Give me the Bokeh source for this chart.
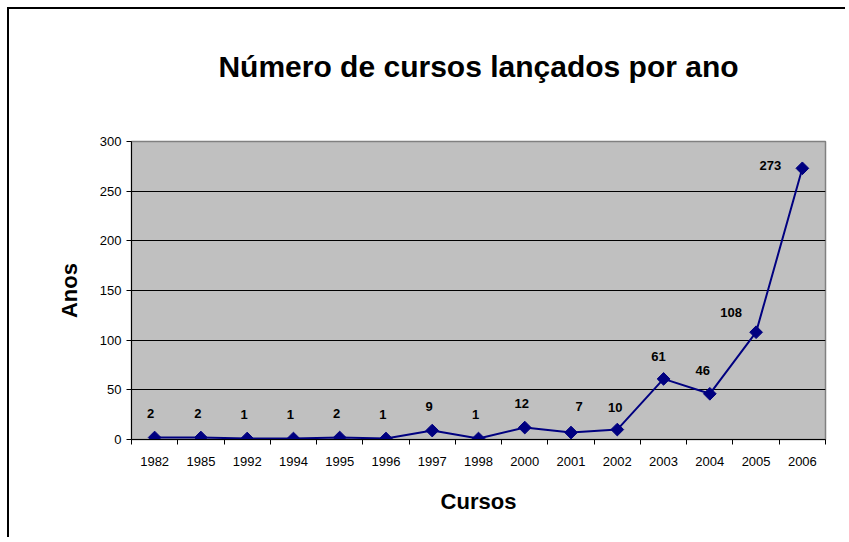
from bokeh.plotting import figure
from bokeh.models import FixedTicker, ColumnDataSource, LabelSet
from bokeh.embed import file_html
from bokeh.resources import INLINE
from bokeh.core.properties import value

# ---- data ----
years = ["1982", "1985", "1992", "1994", "1995", "1996", "1997", "1998",
         "2000", "2001", "2002", "2003", "2004", "2005", "2006"]
cursos = [2, 2, 1, 1, 2, 1, 9, 1, 12, 7, 10, 61, 46, 108, 273]
y_ticks = [0, 50, 100, 150, 200, 250, 300]
title_text = "Número de cursos lançados por ano"

# label placement (screen px), style only
lbl_dx = [-4, -3, -3, -3, -3, -3, -3, -3, -3, 8, -2, -5, -7, -25, -32]
lbl_dy = [24, 24, 24, 24, 24, 24, 24, 24, 24, 26, 22, 22, 23, 20, 3]

FONT = "Liberation Sans"
xs = [i + 0.5 for i in range(len(years))]

src = ColumnDataSource(dict(x=xs, y=cursos, lbl=[str(v) for v in cursos],
                            dx=lbl_dx, dy=lbl_dy))

p = figure(width=838, height=530, output_backend="svg", toolbar_location=None,
           x_range=(0, len(years)), y_range=(0, 300),
           min_border_left=122, min_border_right=22,
           min_border_top=132, min_border_bottom=100,
           background_fill_color="#C0C0C0", border_fill_color="white")
p.styles = {"border-left": "2px solid black", "border-top": "2px solid black",
            "margin-left": "7px", "margin-top": "7px"}

# a trailing empty line lifts the title higher above the plot area
p.title.text = title_text + "\n "
p.title.align = "center"
p.title.text_font = FONT
p.title.text_font_size = "30px"
p.title.text_font_style = "bold"
p.title.text_color = "black"
p.title.standoff = 52

p.outline_line_color = "#808080"
p.outline_line_width = 1.5

# grid
p.xgrid.grid_line_color = None
p.ygrid.grid_line_color = "black"
p.ygrid.grid_line_width = 1
p.ygrid.ticker = FixedTicker(ticks=y_ticks)

# x axis
xa = p.xaxis[0]
xa.ticker = FixedTicker(ticks=xs, minor_ticks=list(range(len(years) + 1)))
xa.major_label_overrides = {x: y for x, y in zip(xs, years)}
xa.major_tick_line_color = None
xa.minor_tick_line_color = "black"
xa.minor_tick_out = 5
xa.minor_tick_in = 0
xa.axis_line_color = "black"
xa.major_label_text_font = FONT
xa.major_label_text_font_size = "13px"
xa.major_label_text_color = "black"
xa.major_label_standoff = 11
xa.axis_label = "Cursos"
xa.axis_label_text_font = FONT
xa.axis_label_text_font_size = "22px"
xa.axis_label_text_font_style = "bold"
xa.axis_label_text_color = "black"
xa.axis_label_standoff = 20

# y axis
ya = p.yaxis[0]
ya.ticker = FixedTicker(ticks=y_ticks)
ya.major_tick_out = 5
ya.major_tick_in = 0
ya.minor_tick_line_color = None
ya.axis_line_color = "black"
ya.major_label_text_font = FONT
ya.major_label_text_font_size = "13px"
ya.major_label_text_color = "black"
ya.major_label_standoff = 5
ya.axis_label = "Anos"
ya.axis_label_text_font = FONT
ya.axis_label_text_font_size = "22px"
ya.axis_label_text_font_style = "bold"
ya.axis_label_text_color = "black"
ya.axis_label_standoff = 15

# series
p.line("x", "y", source=src, line_color="#000080", line_width=2)
p.scatter("x", "y", source=src, marker="square", angle=0.7853981634,
          size=9, fill_color="#000080", line_color="#000080")

labels = LabelSet(x="x", y="y", text="lbl", source=src, x_offset="dx", y_offset="dy",
                  text_align="center", text_baseline="middle",
                  text_font=value(FONT), text_font_size="13px", text_font_style="bold",
                  text_color="black")
p.add_layout(labels)

open("out.html", "w").write(file_html(p, INLINE))
